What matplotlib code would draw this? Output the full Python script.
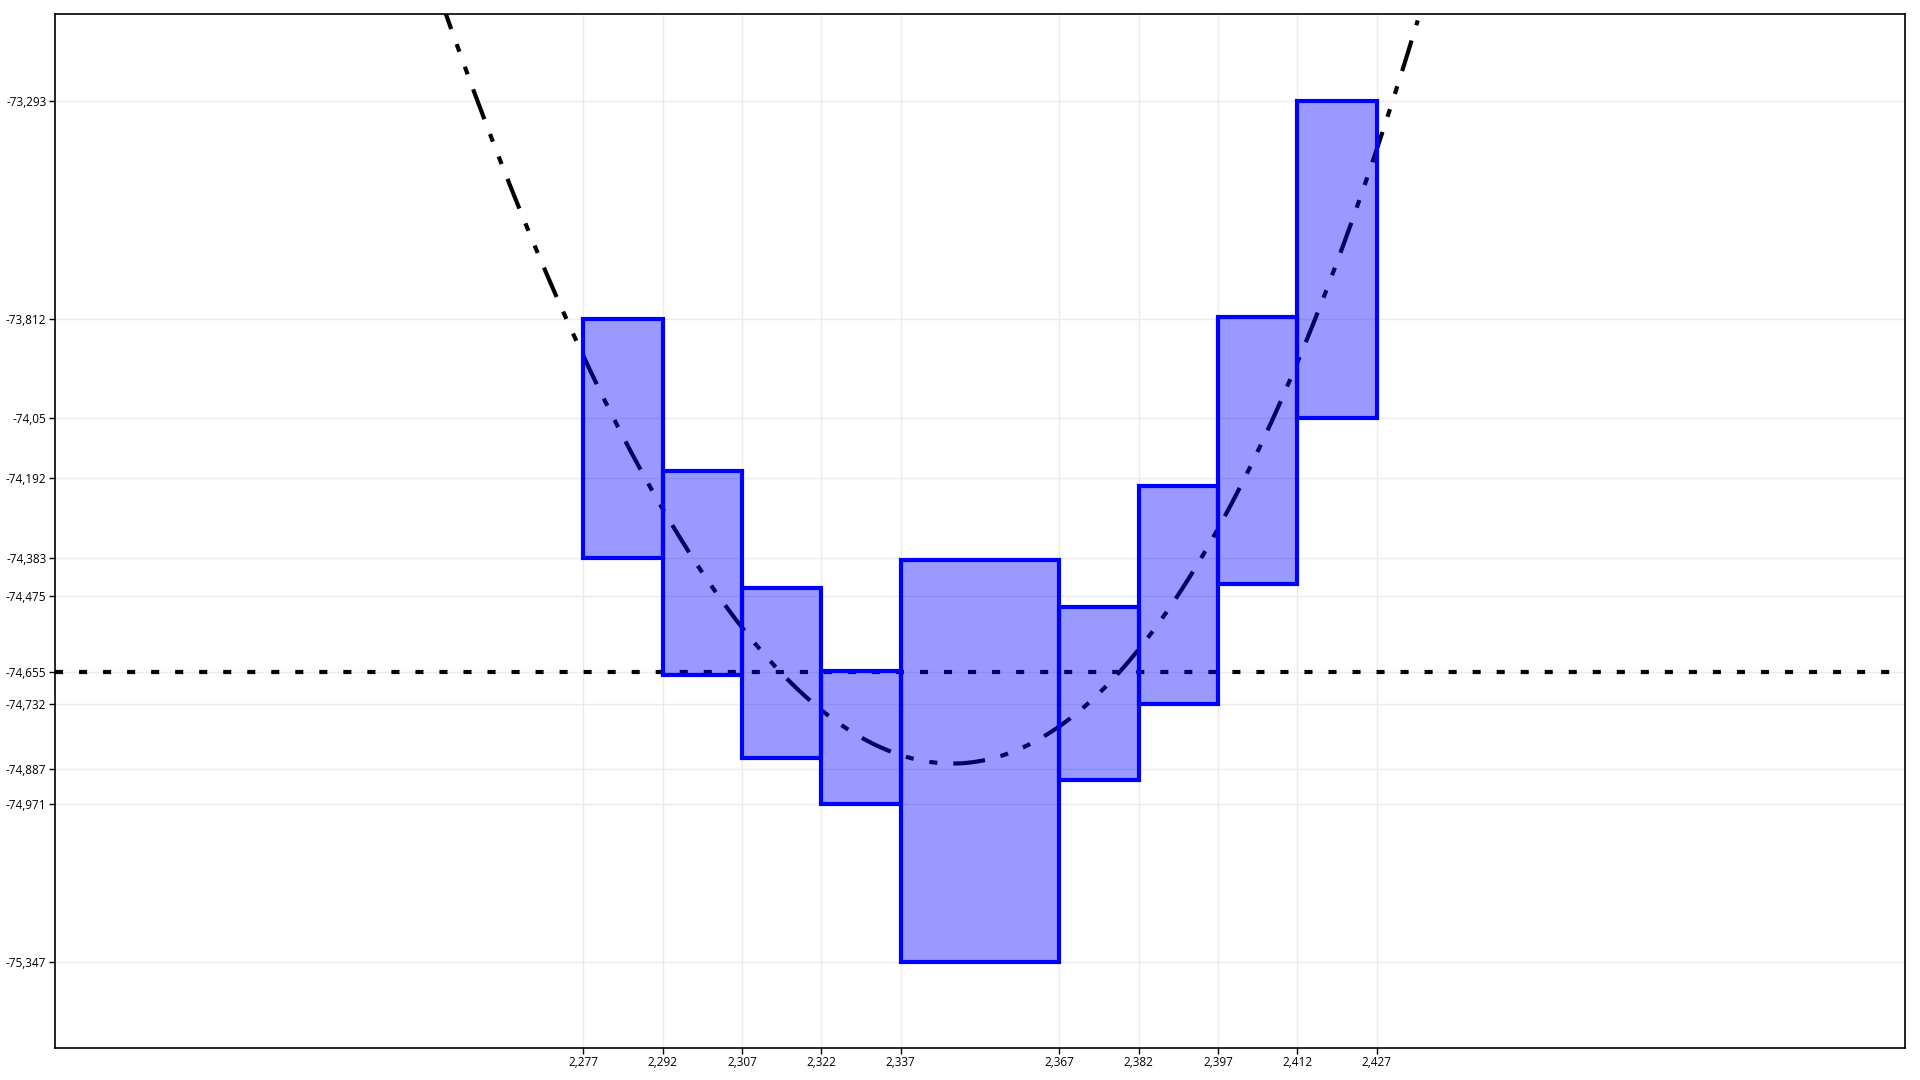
import matplotlib.pyplot as plt
import numpy as np
from matplotlib.ticker import FixedLocator, FuncFormatter

# box edges (x) and vertical extent (y) for each box
x_left = [2.277, 2.292, 2.307, 2.322, 2.337, 2.367, 2.382, 2.397, 2.412]
x_right = [2.292, 2.307, 2.322, 2.337, 2.367, 2.382, 2.397, 2.412, 2.427]
y_low = [-74.383, -74.663, -74.861, -74.971, -75.347, -74.914, -74.732, -74.446, -74.050]
y_high = [-73.812, -74.175, -74.454, -74.653, -74.388, -74.501, -74.212, -73.809, -73.293]

# reference level (dotted line)
ref_level = -74.655

# points
curve_x = [2.2512, 2.2571, 2.2640, 2.2709, 2.2770, 2.2981, 2.3045, 2.3085, 2.3164,
           2.3416, 2.3482, 2.3548, 2.3898, 2.3955, 2.3986, 2.4021, 2.4065, 2.4115,
           2.4150, 2.4163, 2.4248, 2.4298, 2.4340]
curve_y = [-73.085, -73.291, -73.529, -73.768, -73.871, -74.393, -74.508, -74.575, -74.681,
           -74.868, -74.872, -74.859, -74.468, -74.345, -74.269, -74.194, -74.066, -73.935,
           -73.847, -73.768, -73.529, -73.291, -73.116]
curve_end = 2.4348

x_ticks = [2.277, 2.292, 2.307, 2.322, 2.337, 2.367, 2.382, 2.397, 2.412, 2.427]
y_ticks = [-73.293, -73.812, -74.05, -74.192, -74.383, -74.475, -74.655, -74.732,
           -74.887, -74.971, -75.347]

plt.rcParams["font.family"] = ["Open Sans", "DejaVu Sans"]
plt.rcParams["lines.scale_dashes"] = False

fig = plt.figure(figsize=(19.2, 10.8), dpi=100)
ax = fig.add_axes([0.0285, 0.0296, 0.9638, 0.9574])

# trend curve (smooth fit through the read points)
coef = np.polyfit(curve_x, curve_y, 3)
xs = np.linspace(2.245, curve_end, 400)
ax.plot(xs, np.polyval(coef, xs), color="black", lw=3,
        dashes=(23, 11.5, 5.8, 11.5, 5.8, 11.5), dash_capstyle="butt", zorder=2)

ax.axhline(ref_level, color="black", lw=3, dashes=(5.8, 11.5), zorder=2)

# boxes
for x0, x1, lo, hi in zip(x_left, x_right, y_low, y_high):
    ax.add_patch(plt.Rectangle((x0, lo), x1 - x0, hi - lo,
                               facecolor=(0, 0, 1, 0.4), edgecolor="#0000ff",
                               lw=3, zorder=3))

ax.set_xlim(2.177, 2.527)
ax.set_ylim(-75.553, -73.085)

ax.xaxis.set_major_locator(FixedLocator(x_ticks))
ax.yaxis.set_major_locator(FixedLocator(y_ticks))
fmt = FuncFormatter(lambda v, pos: f"{v:g}".replace(".", ","))
ax.xaxis.set_major_formatter(fmt)
ax.yaxis.set_major_formatter(fmt)

ax.grid(True, color="#ebebeb", lw=1, zorder=0)
ax.set_axisbelow(True)
ax.tick_params(axis="both", labelsize=8.5, length=4, width=1, pad=2, color="black")

for sp in ax.spines.values():
    sp.set_linewidth(1.2)
    sp.set_color("black")

fig.savefig("out.png", dpi=100)
